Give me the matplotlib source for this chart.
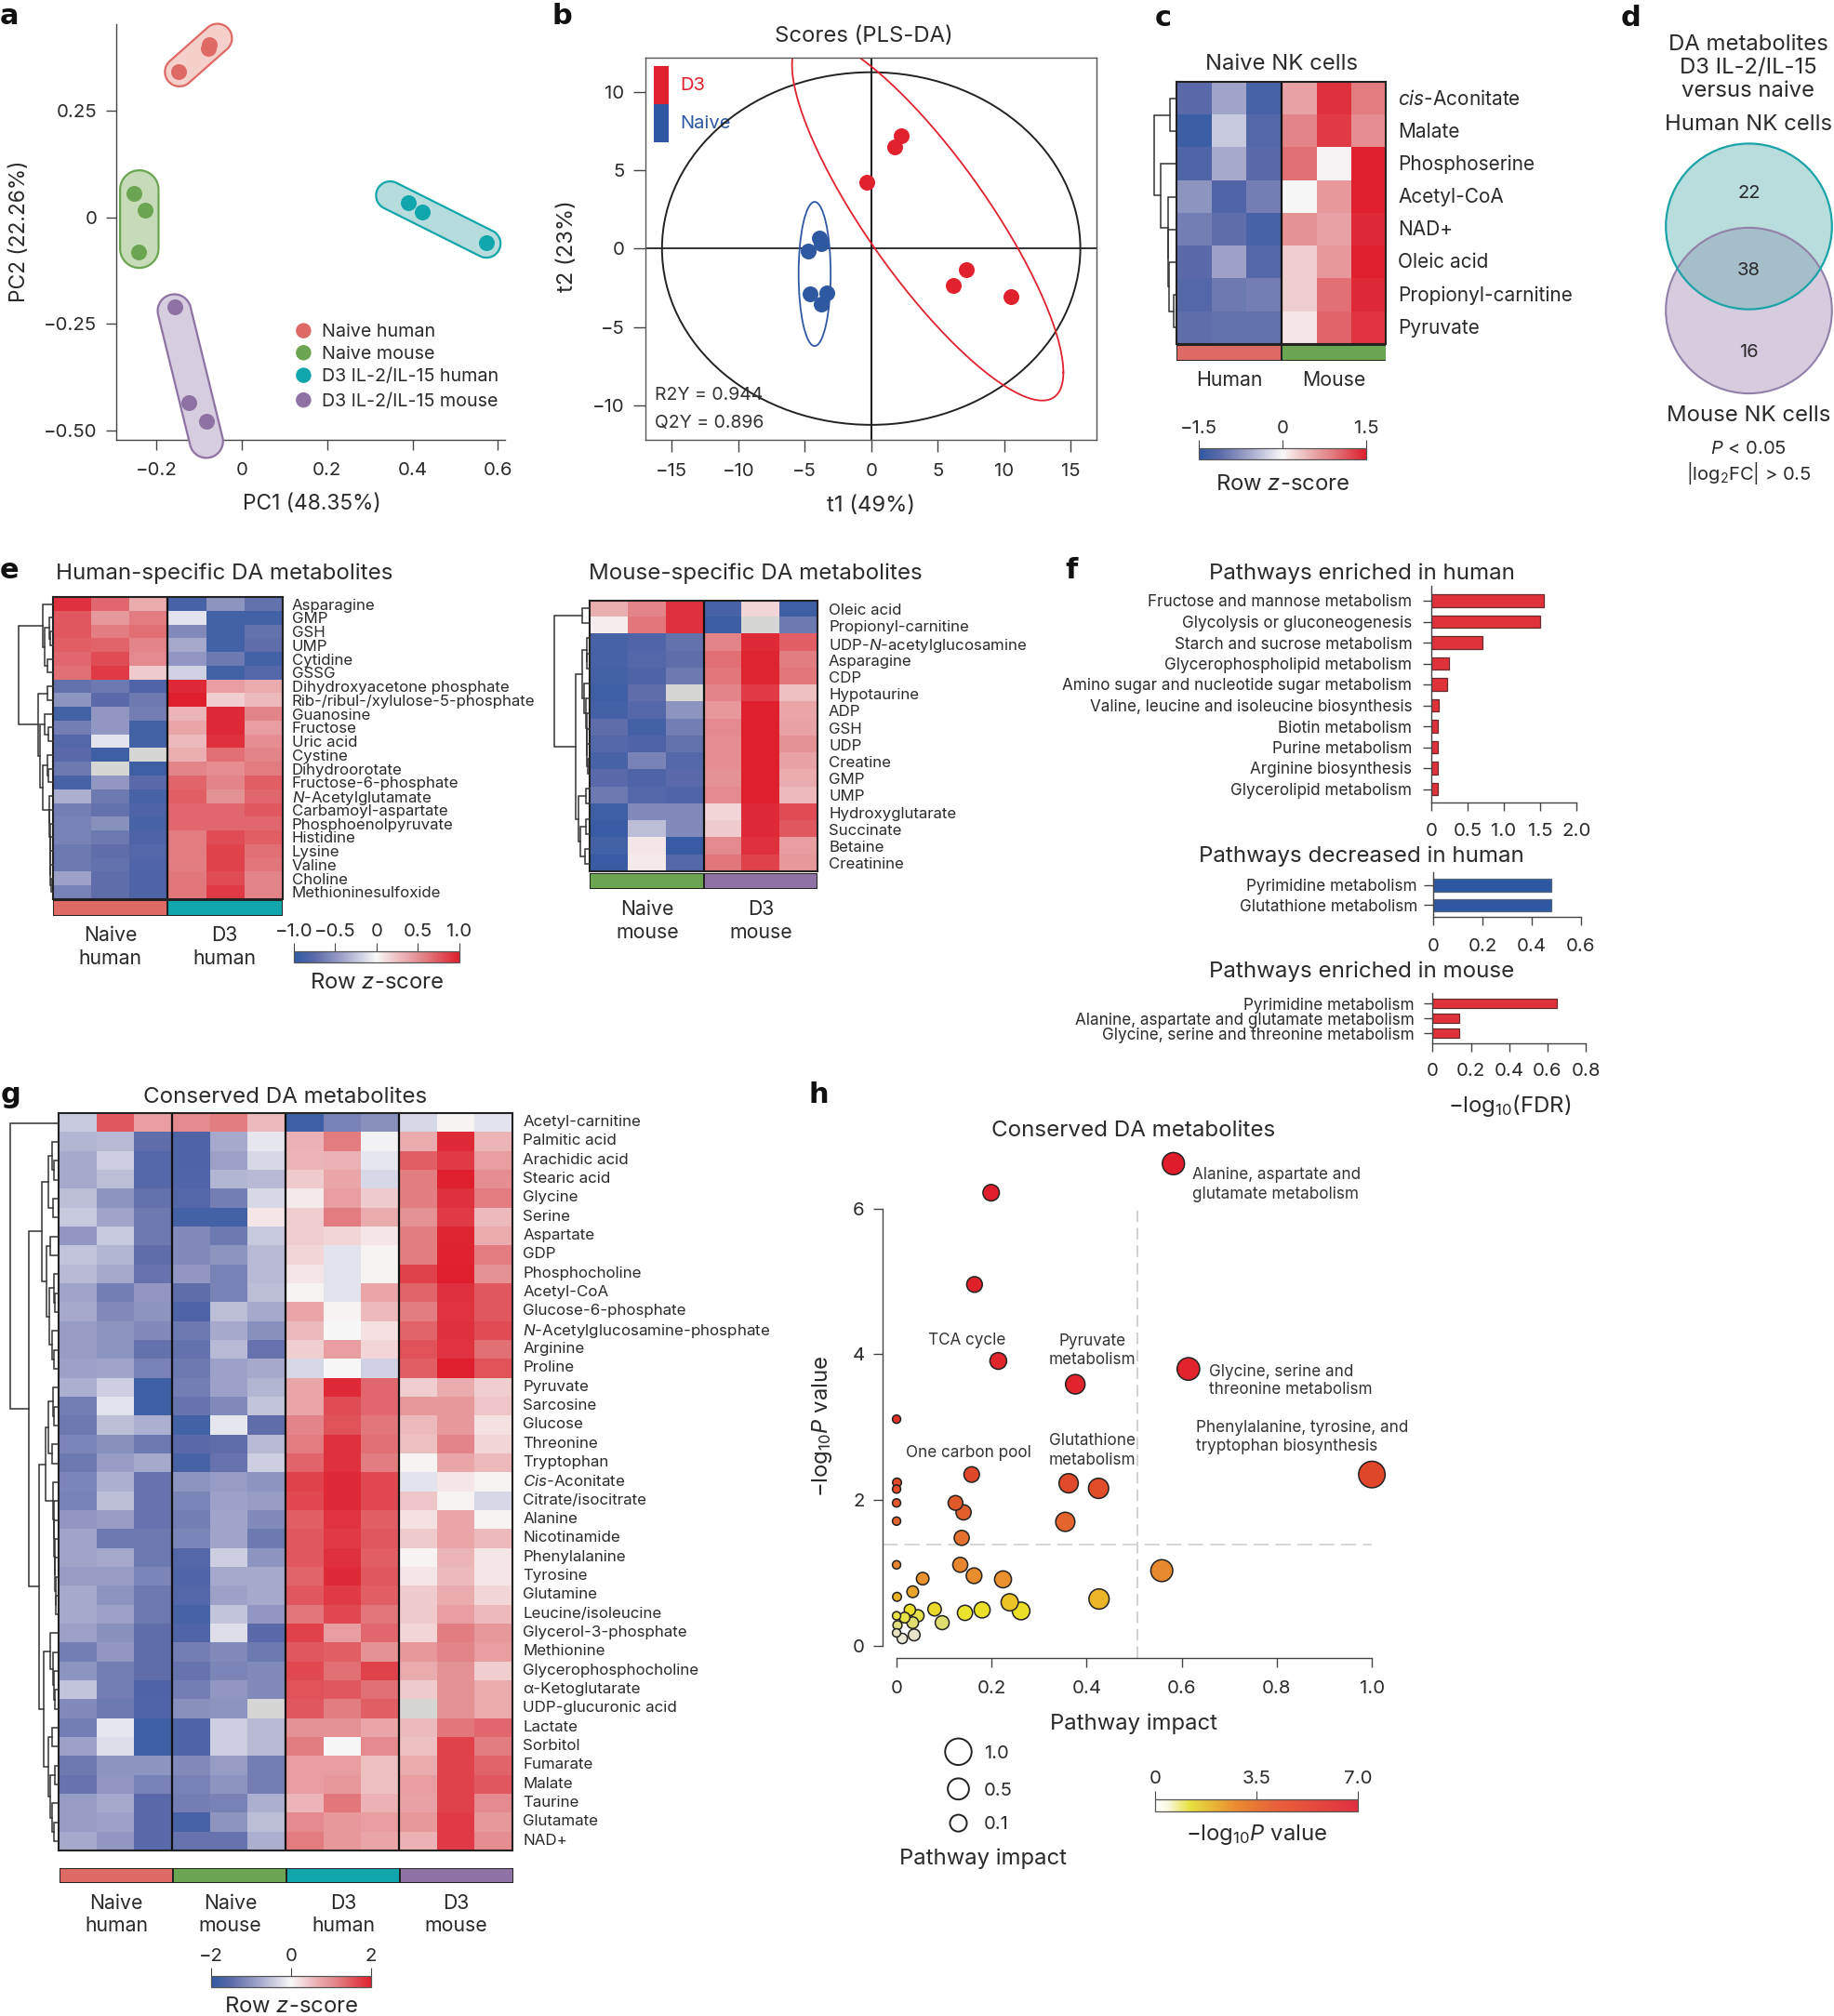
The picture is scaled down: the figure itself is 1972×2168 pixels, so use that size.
import numpy as np
import matplotlib
matplotlib.use('Agg')
import matplotlib.pyplot as plt
from matplotlib.colors import LinearSegmentedColormap, Normalize
from matplotlib.patches import Ellipse, Polygon, Rectangle
from matplotlib.cm import ScalarMappable
from matplotlib.transforms import ScaledTranslation

W, H = 1972, 2168
FONT = 'Inter'
plt.rcParams['font.family'] = [FONT, 'DejaVu Sans']
plt.rcParams['mathtext.fontset'] = 'custom'
plt.rcParams['mathtext.rm'] = FONT
plt.rcParams['mathtext.it'] = FONT + ':italic'
plt.rcParams['mathtext.bf'] = FONT + ':bold'
plt.rcParams['text.color'] = '#2a2a2a'
plt.rcParams['axes.labelcolor'] = '#2a2a2a'
plt.rcParams['xtick.labelcolor'] = '#2a2a2a'
plt.rcParams['ytick.labelcolor'] = '#2a2a2a'

# ---------------- colours
C_NH, C_NM, C_DH, C_DM = '#de6a66', '#6ba551', '#10a6ab', '#8e72a3'
F_NH, F_NM, F_DH, F_DM = '#f5cfc9', '#c6dcb9', '#b6dcde', '#d6cde0'
RED, BLUE = '#e0222f', '#2f58a2'

# ---------------- panel a
pca_groups = ['Naive human', 'Naive mouse', 'D3 IL-2/IL-15 human', 'D3 IL-2/IL-15 mouse']
pca_x = [[-0.1475, -0.077, -0.0775], [-0.252, -0.227, -0.242], [0.391, 0.422, 0.573], [-0.157, -0.124, -0.0825]]
pca_y = [[0.341, 0.406, 0.396], [0.056, 0.016, -0.082], [0.033, 0.012, -0.061], [-0.21, -0.436, -0.478]]
hull_ends = [[(-0.146, 0.341), (-0.057, 0.42)], [(-0.24, 0.065), (-0.24, -0.074)],
             [(0.3475, 0.051), (0.573, -0.062)], [(-0.158, -0.22), (-0.083, -0.526)]]
hull_r = [0.034, 0.045, 0.033, 0.039]

# ---------------- panel b
pls_d3_x = [2.29, 1.74, -0.36, 7.16, 6.14, 10.5]
pls_d3_y = [7.21, 6.47, 4.21, -1.34, -2.35, -3.04]
pls_n_x = [-3.9, -3.76, -4.76, -4.56, -3.37, -3.79]
pls_n_y = [0.67, 0.32, -0.17, -2.89, -2.83, -3.54]

# ---------------- panel c
c_rows = [r'$\mathit{cis}$-Aconitate', 'Malate', 'Phosphoserine', 'Acetyl-CoA', 'NAD+', 'Oleic acid', 'Propionyl-carnitine', 'Pyruvate']
c_z = 1.5 * np.array([
 [-.75, -.4, -.85, .4, .92, .6], [-.92, -.22, -.78, .55, .88, .5], [-.8, -.38, -.75, .65, .03, 1.0],
 [-.5, -.8, -.62, 0.0, .45, 1.0], [-.62, -.72, -.85, .48, .4, .95], [-.75, -.42, -.78, .18, .45, 1.0],
 [-.78, -.65, -.62, .18, .65, .95], [-.72, -.7, -.7, .08, .7, .9]])
n = np.nan

# ---------------- panel d
venn_counts = [22, 38, 16]

# ---------------- panel e
e1_rows = ['Asparagine', 'GMP', 'GSH', 'UMP', 'Cytidine', 'GSSG', 'Dihydroxyacetone phosphate',
           'Rib-/ribul-/xylulose-5-phosphate', 'Guanosine', 'Fructose', 'Uric acid', 'Cystine', 'Dihydroorotate',
           'Fructose-6-phosphate', r'$\mathit{N}$-Acetylglutamate', 'Carbamoyl-aspartate', 'Phosphoenolpyruvate',
           'Histidine', 'Lysine', 'Valine', 'Choline', 'Methioninesulfoxide']
e1_z = np.array([
 [.92, .68, .35, -.85, -.5, -.7], [.75, .45, .6, -.1, -.88, -.88], [.75, .58, .65, -.55, -.88, -.7],
 [.72, .7, .55, -.38, -.88, -.72], [.68, .8, .52, -.48, -.65, -.88], [.65, .88, .2, -.18, -.88, -.78],
 [-.7, -.65, -.8, .95, .42, .35], [-.5, -.75, -.65, 1.0, .18, .28], [-.88, -.48, -.62, .3, .95, .55],
 [-.62, -.48, -.88, .38, .95, .42], [-.78, -.1, -.88, .28, .92, .5], [-.75, -.9, n, .33, .65, .55],
 [-.65, n, -.9, .55, .5, .6], [-.85, -.48, -.75, .7, .55, .72], [-.35, -.65, -.85, .72, .48, .68],
 [-.62, -.7, -.82, .68, .68, .75], [-.6, -.52, -.85, .68, .68, .68], [-.6, -.65, -.82, .6, .8, .72],
 [-.65, -.72, -.78, .6, .85, .65], [-.65, -.7, -.8, .58, .85, .62], [-.42, -.72, -.82, .62, .8, .55],
 [-.6, -.72, -.82, .62, .88, .55]])
e2_rows = ['Oleic acid', 'Propionyl-carnitine', r'UDP-$\mathit{N}$-acetylglucosamine', 'Asparagine', 'CDP', 'Hypotaurine',
           'ADP', 'GSH', 'UDP', 'Creatine', 'GMP', 'UMP', 'Hydroxyglutarate', 'Succinate', 'Betaine', 'Creatinine']
e2_z = np.array([
 [.33, .55, .92, -.85, .15, -.9], [.05, .62, .92, -.92, n, -.65], [-.85, -.8, -.7, .55, .95, .72],
 [-.85, -.78, -.72, .65, .97, .58], [-.87, -.82, -.65, .62, .97, .62], [-.9, -.72, n, .55, .88, .25],
 [-.87, -.78, -.5, .45, 1, .38], [-.72, -.87, -.62, .52, 1, .4], [-.78, -.82, -.7, .5, 1, .48],
 [-.85, -.6, -.78, .5, 1, .4], [-.75, -.82, -.75, .48, 1, .35], [-.65, -.78, -.8, .52, 1, .28],
 [-.9, -.55, -.55, .15, .95, .8], [-.95, -.28, -.55, .2, .95, .75], [-.88, .08, -.95, .52, .92, .42],
 [-.95, .07, -.78, .62, .85, .45]])

# ---------------- panel f
f1_names = ['Fructose and mannose metabolism', 'Glycolysis or gluconeogenesis', 'Starch and sucrose metabolism',
            'Glycerophospholipid metabolism', 'Amino sugar and nucleotide sugar metabolism',
            'Valine, leucine and isoleucine biosynthesis', 'Biotin metabolism', 'Purine metabolism',
            'Arginine biosynthesis', 'Glycerolipid metabolism']
f1_vals = [1.55, 1.50, 0.70, 0.24, 0.216, 0.103, 0.093, 0.093, 0.093, 0.093]
f2_names = ['Pyrimidine metabolism', 'Glutathione metabolism']
f2_vals = [0.48, 0.48]
f3_names = ['Pyrimidine metabolism', 'Alanine, aspartate and glutamate metabolism', 'Glycine, serine and threonine metabolism']
f3_vals = [0.65, 0.141, 0.141]

# ---------------- panel g
g_rows = ['Acetyl-carnitine', 'Palmitic acid', 'Arachidic acid', 'Stearic acid', 'Glycine', 'Serine', 'Aspartate', 'GDP',
          'Phosphocholine', 'Acetyl-CoA', 'Glucose-6-phosphate', r'$\mathit{N}$-Acetylglucosamine-phosphate', 'Arginine',
          'Proline', 'Pyruvate', 'Sarcosine', 'Glucose', 'Threonine', 'Tryptophan', r'$\mathit{Cis}$-Aconitate',
          'Citrate/isocitrate', 'Alanine', 'Nicotinamide', 'Phenylalanine', 'Tyrosine', 'Glutamine', 'Leucine/isoleucine',
          'Glycerol-3-phosphate', 'Methionine', 'Glycerophosphocholine', 'α-Ketoglutarate', 'UDP-glucuronic acid', 'Lactate',
          'Sorbitol', 'Fumarate', 'Malate', 'Taurine', 'Glutamate', 'NAD+']
g_z = 2 * np.array([
 [-.22, .75, .42, .52, .58, .28, -.9, -.6, -.52, -.15, .02, -.1],
 [-.32, -.3, -.72, -.82, -.38, -.08, .32, .6, -.03, .35, .95, .3],
 [-.38, -.2, -.78, -.82, -.42, -.15, .3, .32, -.08, .72, .88, .42],
 [-.38, -.28, -.78, -.8, -.32, -.3, .2, .38, -.15, .58, 1, .5],
 [-.28, -.5, -.7, -.78, -.62, -.15, .06, .42, .2, .58, .92, .6],
 [-.22, -.4, -.65, -.87, -.87, .08, .18, .6, .35, .48, .88, .28],
 [-.48, -.22, -.65, -.55, -.65, -.22, .18, .15, .08, .58, .97, .35],
 [-.25, -.32, -.72, -.55, -.5, -.3, .15, -.1, .02, .58, .98, .6],
 [-.3, -.38, -.68, -.48, -.6, -.3, .08, -.1, .02, .85, 1, .48],
 [-.4, -.62, -.48, -.72, -.6, -.28, .02, -.1, .38, .7, .92, .75],
 [-.38, -.55, -.5, -.82, -.28, -.38, .38, .02, .28, .58, .9, .75],
 [-.45, -.5, -.55, -.65, -.38, -.52, .28, 0, .1, .7, .92, .8],
 [-.45, -.5, -.7, -.7, -.3, -.68, .18, .42, .15, .78, .9, .65],
 [-.42, -.4, -.6, -.65, -.42, -.38, -.15, 0, -.18, .72, 1, .78],
 [-.35, -.2, -.9, -.62, -.42, -.32, .38, .95, .68, .18, .35, .18],
 [-.62, -.1, -.9, -.68, -.55, -.25, .38, .8, .68, .45, .45, .22],
 [-.65, -.28, -.35, -.88, -.08, -.72, .55, .78, .62, .28, .45, .1],
 [-.58, -.52, -.65, -.75, -.72, -.3, .6, .92, .65, .25, .55, .15],
 [-.65, -.45, -.38, -.85, -.68, -.2, .7, .92, .58, .02, .38, .28],
 [-.58, -.35, -.68, -.5, -.45, -.5, .85, .95, .82, -.1, .08, .02],
 [-.6, -.28, -.68, -.58, -.42, -.45, .82, .95, .82, .22, .02, -.15],
 [-.48, -.45, -.68, -.62, -.4, -.55, .72, .9, .72, .1, .38, .02],
 [-.4, -.65, -.65, -.58, -.4, -.65, .75, .88, .75, .2, .38, .28],
 [-.4, -.38, -.65, -.78, -.2, -.5, .75, .92, .72, .02, .3, .08],
 [-.45, -.45, -.58, -.8, -.38, -.38, .7, .95, .75, .08, .28, .08],
 [-.38, -.5, -.65, -.78, -.42, -.38, .75, .88, .72, .2, .35, .15],
 [-.38, -.42, -.65, -.85, -.25, -.48, .62, .82, .62, .2, .42, .28],
 [-.42, -.52, -.72, -.8, -.12, -.75, .85, .42, .68, .15, .58, .45],
 [-.62, -.48, -.72, -.62, -.55, -.65, .75, .72, .48, .45, .55, .42],
 [-.5, -.62, -.72, -.68, -.58, -.55, .82, .65, .85, .35, .48, .18],
 [-.25, -.62, -.82, -.62, -.48, -.55, .78, .75, .65, .2, .48, .35],
 [-.55, -.65, -.8, -.52, -.5, n, .75, .58, .72, n, .48, .35],
 [-.62, -.08, -.9, -.82, -.2, -.3, .48, .48, .38, .28, .62, .68],
 [-.42, -.12, -.9, -.82, -.2, -.3, .58, 0, .52, .25, .85, .58],
 [-.65, -.5, -.5, -.55, -.45, -.62, .42, .42, .25, .35, .85, .7],
 [-.68, -.48, -.6, -.6, -.5, -.62, .42, .45, .25, .42, .85, .75],
 [-.45, -.38, -.75, -.62, -.6, -.35, .3, .62, .32, .4, .85, .52],
 [-.45, -.42, -.75, -.85, -.5, -.28, .52, .45, .42, .45, .88, .45],
 [-.38, -.48, -.75, -.68, -.68, -.35, .6, .45, .38, .32, .88, .5]])

# ---------------- panel h
h_impact = [.5825, .199, .164, .214, .376, .614, 1.0, 0, .158, .001, 0, 0, 0, .124, .141, .362, .425, .355, .137, 0, .134,
            .163, .224, .055, .558, .426, .034, .001, .08, .028, .045, 0, .017, .144, .18, .238, .262, .096, .034, .002, 0,
            .037, .012]
h_logp = [6.62, 6.22, 4.96, 3.91, 3.59, 3.80, 2.35, 3.11, 2.35, 2.24, 2.15, 1.96, 1.71, 1.96, 1.83, 2.23, 2.16, 1.70, 1.48,
          1.11, 1.11, .96, .91, .92, 1.03, .64, .74, .67, .50, .49, .41, .41, .385, .45, .49, .595, .476, .315, .315, .28,
          .175, .147, .098]
h_legend_sizes = [1.0, 0.5, 0.1]

# ---------------- dendrograms: (height, child, child); 0 = leaf
tree_c = (1, (.26, 0, 0), (.7, 0, (.36, 0, (.33, 0, (.3, 0, (.08, 0, 0))))))
tree_e1 = (1, (.29, 0, (.22, (.1, 0, (.08, 0, 0)), (.14, 0, 0))),
           (.42, (.14, 0, 0), (.37, (.22, 0, (.12, 0, 0)),
            (.3, (.16, 0, (.12, 0, 0)), (.1, 0, (.09, 0, (.08, 0, (.07, 0, (.06, 0, (.055, 0, (.05, 0, 0)))))))))))
tree_e2 = (1, (.19, 0, 0), (.38, (.2, (.08, 0, (.06, 0, 0)), (.15, 0, (.1, 0, (.08, 0, (.07, 0, (.06, 0, (.05, 0, 0))))))),
                            (.3, (.1, 0, 0), (.25, (.1, 0, 0), (.12, 0, 0)))))
tree_g = (1, 0, (.61,
    (.33, (.2, (.12, 0, (.08, 0, 0)), (.1, 0, 0)),
          (.24, (.15, 0, 0), (.18, (.09, 0, (.07, 0, 0)), (.12, 0, (.08, 0, 0))))),
    (.4, (.26, (.2, (.1, 0, (.09, 0, 0)), (.13, 0, 0)),
               (.1, 0, (.09, 0, (.08, 0, (.07, 0, (.06, 0, (.05, 0, (.045, 0, 0)))))))),
         (.3, (.15, 0, (.1, 0, (.08, 0, (.06, 0, 0)))),
              (.2, (.13, 0, 0), (.16, (.07, 0, 0), (.12, 0, (.08, 0, 0))))))))

# ================================================================= helpers
fig = plt.figure(figsize=(W / 100, H / 100), dpi=100, facecolor='white')
PT = 0.72
SZ_TICK, SZ_AX, SZ_TITLE, SZ_ROW, SZ_GROUP = 14.7, 17.2, 17.4, 12.1, 15.3
AXC = '#444444'


def axpx(l, t, r, b, **kw):
    return fig.add_axes([l / W, 1 - b / H, (r - l) / W, (b - t) / H], **kw)


def T(x, y, s, size=SZ_AX, ha='center', va='center', **kw):
    if va == 'center':
        if kw.get('rotation') == 90:
            x += 2
        else:
            y += 1.8
    return fig.text(x / W, 1 - y / H, s, fontsize=size, ha=ha, va=va, **kw)


heat_cmap = LinearSegmentedColormap.from_list('heat', [
    (0, '#2f5aa3'), (.125, '#5a69a9'), (.3, '#a2a5ca'), (.5, '#f8f8f8'),
    (.65, '#ecb5b8'), (.8, '#e27c80'), (1, '#df1f2d')])
heat_cmap.set_bad('#d6d6d4')


def heat(l, t, r, b, z, rows, vmax, lab_x, seps, size=SZ_ROW, dy=0):
    ax = axpx(l, t, r, b)
    im = ax.imshow(z, cmap=heat_cmap, vmin=-vmax, vmax=vmax, aspect='auto', interpolation='nearest')
    ax.set_xticks([])
    ax.yaxis.tick_right()
    ax.set_yticks(range(len(rows)), rows, fontsize=size)
    ax.tick_params(axis='y', length=0, pad=(lab_x - r) * PT)
    if dy:
        off = ScaledTranslation(0, dy / 100, fig.dpi_scale_trans)
        for lab in ax.get_yticklabels():
            lab.set_transform(lab.get_transform() + off)
    for s in ax.spines.values():
        s.set_linewidth(1.5)
        s.set_color('#222222')
    for c in seps:
        ax.axvline(c - .5, color='#111111', lw=1.6)
    return im


def annot(l, t, r, b, colours):
    ax = axpx(l, t, r, b)
    ax.barh([0] * len(colours), [1] * len(colours), left=range(len(colours)), height=1, color=colours,
            edgecolor='#222222', linewidth=1.4)
    ax.set_xlim(0, len(colours))
    ax.set_ylim(-.5, .5)
    ax.axis('off')


def dendro(l, t, r, b, tree):
    ax = axpx(l, t, r, b)
    count = [0]

    def walk(node):
        if node == 0:
            count[0] += 1
            return count[0] - .5, 0
        h, a, c = node
        ya, ha = walk(a)
        yc, hc = walk(c)
        ax.plot([ha, h, h, hc], [ya, ya, yc, yc], color='#333333', lw=1.1, solid_joinstyle='miter', clip_on=False)
        return (ya + yc) / 2, h

    walk(tree)
    ax.set_xlim(1, 0)
    ax.set_ylim(count[0], 0)
    ax.axis('off')


def cbar(l, t, r, b, mappable, ticks, labels, tick_len, pad=2, size=SZ_TICK):
    ax = axpx(l, t, r, b)
    cb = fig.colorbar(mappable, cax=ax, orientation='horizontal')
    cb.set_ticks(ticks, labels=labels)
    ax.xaxis.set_ticks_position('top')
    ax.tick_params(axis='x', length=tick_len * PT, width=.8, color=AXC, pad=pad, labelsize=size)
    ax.minorticks_off()
    cb.outline.set_linewidth(.9)
    cb.outline.set_edgecolor('#555555')
    return cb


def style(ax, lab=SZ_TICK):
    for s in ['top', 'right']:
        ax.spines[s].set_visible(False)
    for s in ['left', 'bottom']:
        ax.spines[s].set_linewidth(1.0)
        ax.spines[s].set_color(AXC)
    ax.tick_params(labelsize=lab, color=AXC, width=1.0)


def stadium(p, q, r, npts=40):
    p, q = np.array(p), np.array(q)
    a = np.arctan2(*(q - p)[::-1])
    t1 = np.linspace(a - np.pi / 2, a + np.pi / 2, npts)
    t2 = t1 + np.pi
    return np.vstack([q + r * np.c_[np.cos(t1), np.sin(t1)], p + r * np.c_[np.cos(t2), np.sin(t2)]])


# ================================================================= a
ax = axpx(125, 26, 543, 472.7)
style(ax)
ax.set_xlim(-.294, .6165)
ax.set_ylim(-.522, .453)
for xs, ys, ends, r, c, f, name in zip(pca_x, pca_y, hull_ends, hull_r, [C_NH, C_NM, C_DH, C_DM],
                                       [F_NH, F_NM, F_DH, F_DM], pca_groups):
    ax.add_patch(Polygon(stadium(ends[0], ends[1], r), closed=True, fc=f, ec=c, lw=1.6, clip_on=False, zorder=3))
    ax.scatter(xs, ys, s=150, color=c, lw=0, zorder=4, clip_on=False)
ax.set_xticks([-.2, 0, .2, .4, .6], ['−0.2', '0', '0.2', '0.4', '0.6'])
ax.set_yticks([-.5, -.25, 0, .25], ['−0.50', '−0.25', '0', '0.25'])
ax.tick_params(axis='both', length=11 * PT, pad=7)
ax.tick_params(axis='x', pad=9.5)
T(335, 540, 'PC1 (48.35%)', size=16.4)
T(19, 249, 'PC2 (22.26%)', size=16.4, rotation=90)
for ly, c, name in zip([355.6, 379.3, 403.6, 430.2], [C_NH, C_NM, C_DH, C_DM], pca_groups):
    fig.add_artist(Ellipse((326.4 / W, 1 - ly / H), 16.5 / W, 16.5 / H, transform=fig.transFigure, fc=c, ec='none'))
    T(346.3, ly, name, size=14.2, ha='left')

# ================================================================= b
ax = axpx(694.3, 62.2, 1178.7, 472.7)
ax.set_xlim(-16.95, 16.92)
ax.set_ylim(-12.19, 12.17)
for s in ax.spines.values():
    s.set_linewidth(1.0)
    s.set_color('#555555')
ax.axhline(0, color='#222222', lw=1.3, zorder=1)
ax.axvline(0, color='#222222', lw=1.5, zorder=1)
ax.add_patch(Ellipse((0, 0), 31.45, 22.5, fc='none', ec='#222222', lw=1.4, zorder=2))
ax.add_patch(Ellipse((-4.25, -1.62), 2.41, 9.2, fc='none', ec=BLUE, lw=1.3, zorder=2))
tt = np.linspace(0, 2 * np.pi, 300)
ax.plot(4.25 + 10.2 * np.cos(tt), 1.9 + 11.6 * np.cos(tt + np.arccos(-.845)), color=RED, lw=1.3, zorder=2)
ax.scatter(pls_d3_x, pls_d3_y, s=150, color=RED, lw=0, zorder=3)
ax.scatter(pls_n_x, pls_n_y, s=150, color=BLUE, lw=0, zorder=3)
ax.add_patch(Rectangle((-16.31, 9.23), 1.08, 2.42, fc=RED, ec='none', zorder=3))
ax.add_patch(Rectangle((-16.31, 6.79), 1.08, 2.44, fc=BLUE, ec='none', zorder=3))
ax.text(-14.4, 10.4, 'D3', color=RED, fontsize=14.5, va='center')
ax.text(-14.4, 7.96, 'Naive', color=BLUE, fontsize=14.5, va='center', zorder=1)
ax.text(-16.28, -9.36, 'R2Y = 0.944', fontsize=14, va='center', color='#333333')
ax.text(-16.28, -11.15, 'Q2Y = 0.896', fontsize=14, va='center', color='#333333')
ax.set_xticks([-15, -10, -5, 0, 5, 10, 15], ['−15', '−10', '−5', '0', '5', '10', '15'])
ax.set_yticks([-10, -5, 0, 5, 10], ['−10', '−5', '0', '5', '10'])
ax.tick_params(axis='both', length=13 * PT, labelsize=SZ_TICK, color=AXC, width=1.0, pad=7)
ax.tick_params(axis='x', pad=8.5)
T(929, 37.5, 'Scores (PLS-DA)')
T(936.7, 542, 't1 (49%)')
T(607.7, 265, 't2 (23%)', rotation=90)

# ================================================================= c
im_c = heat(1265, 88.3, 1490.5, 370, c_z, c_rows, 1.5, 1503, [3], size=15, dy=1.5)
annot(1265, 370.7, 1490.5, 387.7, [C_NH, C_NM])
dendro(1241, 88.3, 1264, 370, tree_c)
T(1378, 67.3, 'Naive NK cells')
T(1321.6, 407, 'Human', size=SZ_GROUP)
T(1434.4, 407, 'Mouse', size=SZ_GROUP)
cbar(1289, 482, 1469, 493.7, im_c, [-1.5, 0, 1.5], ['−1.5', '0', '1.5'], 9)
T(1379, 519, 'Row $\\mathit{z}$-score')

# ================================================================= d
ov = axpx(0, 0, W, H)
ov.set_xlim(0, W)
ov.set_ylim(H, 0)
ov.axis('off')
ov.patch.set_alpha(0)
VX, VW, VH = 1880.5, 178.6, 178.2
VT, VB = 243.5, 334
top = Ellipse((VX, VT), VW, VH, fc='#b9dcdc', ec='none')
bot = Ellipse((VX, VB), VW, VH, fc='#d6cbdf', ec='none')
ov.add_patch(top)
ov.add_patch(bot)
over = Ellipse((VX, VB), VW, VH, fc='#a5bfca', ec='none')
ov.add_patch(over)
over.set_clip_path(top)
ov.add_patch(Ellipse((VX, VB), VW, VH, fc='none', ec='#9080aa', lw=1.5))
ov.add_patch(Ellipse((VX, VT), VW, VH, fc='none', ec='#1ba3a8', lw=1.6))
for y, v in zip([206, 289, 376.7], venn_counts):
    T(VX, y, str(v), size=14.5)
T(1880, 46, 'DA metabolites')
T(1880, 70.7, 'D3 IL-2/IL-15')
T(1880, 95.7, 'versus naive')
T(1880, 132, 'Human NK cells')
T(1880, 445, 'Mouse NK cells')
T(1880, 481.7, r'$\mathit{P}$ < 0.05', size=14.5)
T(1880, 507.7, r'|log$_{2}$FC| > 0.5', size=14.5)

# ================================================================= e
im_e = heat(57, 642.3, 303.6, 966.7, e1_z, e1_rows, 1, 314, [3])
annot(57, 968, 303.6, 984.7, [C_NH, C_DH])
dendro(20, 642.3, 56.5, 966.7, tree_e1)
T(241, 615, 'Human-specific DA metabolites', size=SZ_TITLE)
T(812, 615, 'Mouse-specific DA metabolites', size=SZ_TITLE)
T(118.6, 1004, 'Naive', size=SZ_GROUP)
T(118.6, 1029, 'human', size=SZ_GROUP)
T(241.4, 1004, 'D3', size=SZ_GROUP)
T(241.4, 1029, 'human', size=SZ_GROUP)
cbar(315.7, 1022.7, 494, 1035, im_e, [-1, -.5, 0, .5, 1], ['−1.0', '−0.5', '0', '0.5', '1.0'], 9)
T(405, 1055, 'Row $\\mathit{z}$-score')

heat(634, 646, 879, 937.3, e2_z, e2_rows, 1, 891, [3])
annot(634, 938.7, 879, 955.7, [C_NM, C_DM])
dendro(596, 646, 633.5, 937.3, tree_e2)
T(695.7, 975.7, 'Naive', size=SZ_GROUP)
T(695.7, 1001, 'mouse', size=SZ_GROUP)
T(818, 975.7, 'D3', size=SZ_GROUP)
T(818, 1001, 'mouse', size=SZ_GROUP)


# ================================================================= f
def bars(l, t, r, b, names, vals, colour, xmax, ticks, labels, row0, dy, bar_h, tick_len, lab_gap, tick_pad):
    ax = axpx(l, t, r, b)
    style(ax)
    ypos = range(len(vals))
    ax.barh(ypos, vals, height=bar_h / dy, color=colour, edgecolor='#6a2a2e' if colour == '#e0323a' else '#55657f', lw=.9)
    ax.set_xlim(0, xmax)
    ax.set_ylim((b - row0) / dy, (t - row0) / dy)
    ax.set_yticks(list(ypos), names, fontsize=12.3)
    ax.set_xticks(ticks, labels)
    ax.tick_params(axis='y', length=tick_len * PT, pad=lab_gap * PT)
    ax.tick_params(axis='x', length=9 * PT, pad=tick_pad)


bars(1539, 629.5, 1694.9, 862.7, f1_names, f1_vals, '#e0323a', 2, [0, .5, 1, 1.5, 2], ['0', '0.5', '1.0', '1.5', '2.0'],
     646, 22.5, 13.4, 9, 11.6, 9.5)
bars(1541.4, 937.8, 1699.8, 986.4, f2_names, f2_vals, BLUE, .6, [0, .2, .4, .6], ['0', '0.2', '0.4', '0.6'],
     952, 21.4, 13.4, 9.6, 7.8, 9.5)
bars(1540.3, 1068, 1705.2, 1121.6, f3_names, f3_vals, '#e0323a', .8, [0, .2, .4, .6, .8], ['0', '0.2', '0.4', '0.6', '0.8'],
     1079, 16, 10.3, 9, 10.6, 9)
T(1464, 614.5, 'Pathways enriched in human', size=SZ_TITLE)
T(1464, 919, 'Pathways decreased in human', size=SZ_TITLE)
T(1464, 1043, 'Pathways enriched in mouse', size=SZ_TITLE)
T(1623, 1187, '−log$_{10}$(FDR)')

# ================================================================= g
im_g = heat(62.7, 1197.4, 550.6, 1990.3, g_z, g_rows, 2, 562.4, [3, 6, 9], size=12.2, dy=2.5)
annot(63.7, 2008.5, 551.7, 2025.3, [C_NH, C_NM, C_DH, C_DM])
dendro(10.7, 1197.4, 62.2, 1990.3, tree_g)
T(306.4, 1178, 'Conserved DA metabolites', size=SZ_TITLE)
for x, a, b in zip([125.3, 247.5, 369, 490.6], ['Naive', 'Naive', 'D3', 'D3'], ['human', 'mouse', 'human', 'mouse']):
    T(x, 2045, a, size=SZ_GROUP)
    T(x, 2069, b, size=SZ_GROUP)
cbar(226.6, 2125, 399, 2137, im_g, [-2, 0, 2], ['−2', '0', '2'], 9)
T(312.8, 2156.5, 'Row $\\mathit{z}$-score')

# ================================================================= h
dot_cmap = LinearSegmentedColormap.from_list('dot', [
    (0, '#f2f0e8'), (.02, '#e8e4cc'), (.043, '#dede70'), (.064, '#ece428'), (.093, '#eab026'), (.13, '#e8902e'),
    (.214, '#e4702e'), (.314, '#e04a2a'), (.5, '#e0262c'), (1, '#e01a2c')])
bar_cmap = LinearSegmentedColormap.from_list('pbar', [
    (0, '#ffffff'), (.06, '#f8f8e0'), (.17, '#e6e040'), (.4, '#ea8a30'), (.6, '#e8603a'), (1, '#e03040')])
ax = axpx(949.3, 1234.9, 1507.3, 1783.4)
style(ax)
ax.set_xlim(-.0288, 1.063)
ax.set_ylim(-.175, 6.83)
ax.spines['left'].set_bounds(0, 6)
ax.spines['bottom'].set_bounds(0, 1)
ax.plot([.5066, .5066], [-.175, 6], color='#d2d2d2', ls=(0, (6, 3)), lw=1.5, zorder=1)
ax.plot([-.0288, 1.0], [1.387, 1.387], color='#d2d2d2', ls=(0, (9, 4)), lw=1.3, zorder=1)
imp = np.array(h_impact)
dots_d = (8.9 + 19.6 * np.sqrt(imp)) * PT
order = np.argsort(-imp)
ax.scatter(imp[order], np.array(h_logp)[order], s=dots_d[order] ** 2, c=np.array(h_logp)[order], cmap=dot_cmap,
           norm=Normalize(0, 7), edgecolor='#222222', lw=1.1, zorder=3, clip_on=False)
ax.set_xticks([0, .2, .4, .6, .8, 1], ['0', '0.2', '0.4', '0.6', '0.8', '1.0'])
ax.set_yticks([0, 2, 4, 6], ['0', '2', '4', '6'])
ax.tick_params(axis='both', length=10 * PT, pad=7)
ax.tick_params(axis='x', pad=10)
for x, y, s, ha in [(.622, 6.47, 'Alanine, aspartate and', 'left'), (.622, 6.2, 'glutamate metabolism', 'left'),
                    (.1485, 4.19, 'TCA cycle', 'center'), (.411, 4.18, 'Pyruvate', 'center'), (.411, 3.92, 'metabolism', 'center'),
                    (.657, 3.76, 'Glycine, serine and', 'left'), (.657, 3.51, 'threonine metabolism', 'left'),
                    (.63, 2.99, 'Phenylalanine, tyrosine, and', 'left'), (.63, 2.73, 'tryptophan biosynthesis', 'left'),
                    (.151, 2.64, 'One carbon pool', 'center'), (.411, 2.81, 'Glutathione', 'center'),
                    (.411, 2.54, 'metabolism', 'center')]:
    ax.text(x, y, s, ha=ha, va='center', fontsize=12.3, color='#333333', zorder=4)
T(1219, 1214, 'Conserved DA metabolites', size=SZ_TITLE)
T(1219, 1852, 'Pathway impact')
T(882, 1534, r'−log$_{10}$$\mathit{P}$ value', rotation=90)
for yy, v in zip([1883.8, 1923.8, 1960.6], h_legend_sizes):
    d = 8.9 + 19.6 * np.sqrt(v) + (3 if v == 0.1 else 0)
    fig.add_artist(Ellipse((1030.5 / W, 1 - yy / H), d / W, d / H, transform=fig.transFigure, fc='white', ec='#222222', lw=1.4))
    T(1057.8, yy, f'{v:.1f}', size=14.5, ha='left')
T(1057, 1997, 'Pathway impact')
cbar(1242, 1934.8, 1460.4, 1948, ScalarMappable(Normalize(0, 7), bar_cmap), [0, 3.5, 7], ['0', '3.5', '7.0'], 9, pad=3)
T(1351, 1971, r'−log$_{10}$$\mathit{P}$ value')

# ================================================================= panel letters
for x, y, s in [(0, 26, 'a'), (594, 26, 'b'), (1242, 28, 'c'), (1743, 28, 'd'), (0, 622, 'e'), (1145, 622, 'f'),
                (1, 1186, 'g'), (869, 1186, 'h')]:
    T(x, y, s, size=22, ha='left', va='baseline', fontweight='bold', color='#111111', family='DejaVu Sans')

fig.savefig('out.png', dpi=100, facecolor='white')
